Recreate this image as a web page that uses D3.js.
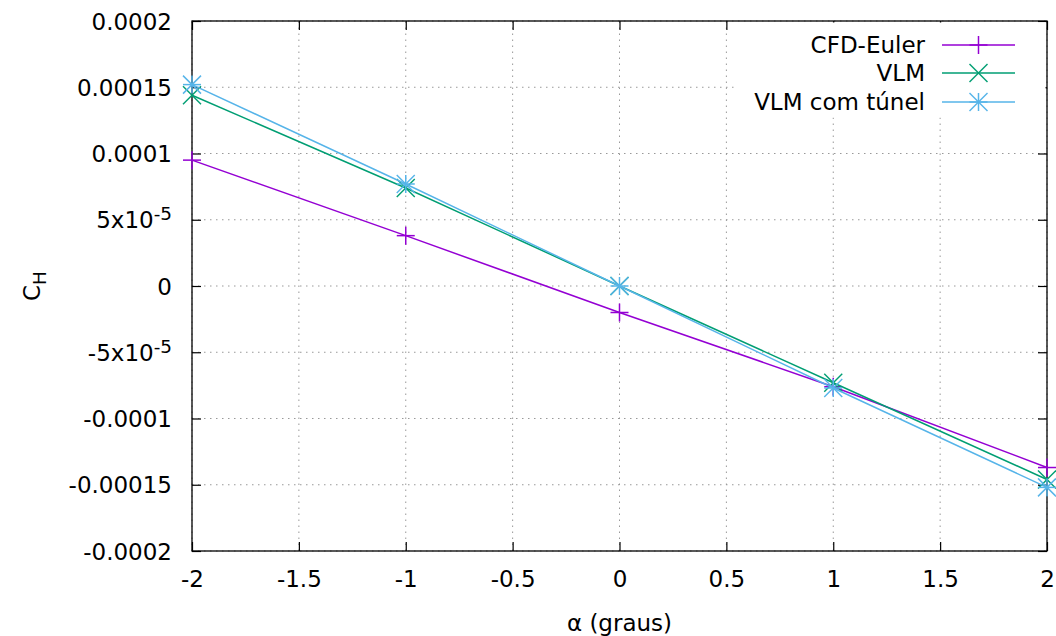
<!DOCTYPE html>
<html>
<head>
<meta charset="utf-8">
<script src="https://cdn.jsdelivr.net/npm/d3@7"></script>
<style>
  html, body { margin: 0; padding: 0; background: #fff; }
  text { font-family: "DejaVu Sans", sans-serif; }
</style>
</head>
<body>
<svg id="chart" width="1056" height="636"></svg>
<script>
// Angle of attack (degrees)
const alpha = [-2, -1, 0, 1, 2];
// Hinge moment coefficient C_H for each method
const cfdEuler = [9.5e-5, 3.8e-5, -2.0e-5, -7.6e-5, -1.37e-4];
const vlm = [1.44e-4, 7.4e-5, 0, -7.3e-5, -1.46e-4];
const vlmTunel = [1.52e-4, 7.7e-5, 0, -7.7e-5, -1.52e-4];

const seriesNames = ["CFD-Euler", "VLM", "VLM com túnel"];
const seriesColors = ["#9400d3", "#009e73", "#56b4e9"];
const seriesMarkers = ["plus", "cross", "star"];

const xTicks = [-2, -1.5, -1, -0.5, 0, 0.5, 1, 1.5, 2];
const xTickLabels = ["-2", "-1.5", "-1", "-0.5", "0", "0.5", "1", "1.5", "2"];
const yTicks = [2e-4, 1.5e-4, 1e-4, 5e-5, 0, -5e-5, -1e-4, -1.5e-4, -2e-4];
// [mantissa text, exponent or null]
const yTickLabels = [
  ["0.0002", null], ["0.00015", null], ["0.0001", null], ["5x10", "-5"], ["0", null],
  ["-5x10", "-5"], ["-0.0001", null], ["-0.00015", null], ["-0.0002", null]
];

const margin = { left: 192, right: 9, top: 21, bottom: 85 };
const W = 1056, H = 636;
const svg = d3.select("#chart");

const x = d3.scaleLinear().domain([-2, 2]).range([margin.left, W - margin.right]);
const y = d3.scaleLinear().domain([-2e-4, 2e-4]).range([H - margin.bottom, margin.top]);

const fontSize = 23;

// Dotted grid
const grid = svg.append("g").attr("stroke", "#999").attr("stroke-width", 1)
  .attr("stroke-dasharray", "1.5,4.5");
xTicks.forEach(t => grid.append("line")
  .attr("x1", x(t)).attr("x2", x(t)).attr("y1", y(-2e-4)).attr("y2", y(2e-4)));
yTicks.forEach(t => grid.append("line")
  .attr("x1", x(-2)).attr("x2", x(2)).attr("y1", y(t)).attr("y2", y(t)));

// Axes with inward ticks, mirrored on top and right
const tickLen = 9;
const axisBottom = d3.axisBottom(x).tickValues(xTicks).tickSize(-tickLen).tickFormat((d, i) => xTickLabels[i]).tickPadding(20);
const axisTop = d3.axisTop(x).tickValues(xTicks).tickSize(-tickLen).tickFormat("");
const axisLeft = d3.axisLeft(y).tickValues(yTicks).tickSize(-tickLen).tickFormat("");
const axisRight = d3.axisRight(y).tickValues(yTicks).tickSize(-tickLen).tickFormat("");

function styleAxis(g) {
  g.select(".domain").remove();
  g.selectAll(".tick line").attr("stroke", "#000").attr("stroke-width", 1.2);
  g.selectAll("text").attr("font-size", fontSize).attr("fill", "#000")
    .style("font-family", "'DejaVu Sans', sans-serif");
}

svg.append("g").attr("transform", `translate(0,${y(-2e-4)})`).call(axisBottom).call(styleAxis);
svg.append("g").attr("transform", `translate(0,${y(2e-4)})`).call(axisTop).call(styleAxis);
const gLeft = svg.append("g").attr("transform", `translate(${x(-2)},0)`).call(axisLeft).call(styleAxis);
svg.append("g").attr("transform", `translate(${x(2)},0)`).call(axisRight).call(styleAxis);

// Y tick labels with superscript exponents
gLeft.selectAll(".tick").each(function(d, i) {
  const lab = yTickLabels[i];
  const t = d3.select(this).append("text")
    .attr("x", -20).attr("dy", "0.35em").attr("text-anchor", "end")
    .attr("font-size", fontSize).attr("fill", "#000");
  t.append("tspan").text(lab[0]);
  if (lab[1]) {
    t.append("tspan").attr("dy", "-0.45em").attr("font-size", fontSize * 0.8).text(lab[1]);
  }
});

// Border
svg.append("rect")
  .attr("x", x(-2)).attr("y", y(2e-4))
  .attr("width", x(2) - x(-2)).attr("height", y(-2e-4) - y(2e-4))
  .attr("fill", "none").attr("stroke", "#000").attr("stroke-width", 1.3);

// Markers
function drawMarker(g, type, cx, cy, color) {
  const s = 9;
  const lines = [];
  if (type === "plus" || type === "star") {
    lines.push([cx - s, cy, cx + s, cy], [cx, cy - s, cx, cy + s]);
  }
  if (type === "cross" || type === "star") {
    lines.push([cx - s, cy - s, cx + s, cy + s], [cx - s, cy + s, cx + s, cy - s]);
  }
  lines.forEach(l => g.append("line")
    .attr("x1", l[0]).attr("y1", l[1]).attr("x2", l[2]).attr("y2", l[3])
    .attr("stroke", color).attr("stroke-width", 1.5));
}

// Series
const seriesData = [cfdEuler, vlm, vlmTunel];
const line = d3.line().x(d => x(d[0])).y(d => y(d[1]));
const plot = svg.append("g");
seriesData.forEach((vals, si) => {
  const pts = alpha.map((a, i) => [a, vals[i]]);
  plot.append("path").datum(pts).attr("d", line)
    .attr("fill", "none").attr("stroke", seriesColors[si]).attr("stroke-width", 1.5);
  pts.forEach(p => drawMarker(plot, seriesMarkers[si], x(p[0]), y(p[1]), seriesColors[si]));
});

// Legend (opaque box over the grid)
const legend = svg.append("g");
legend.append("rect").attr("x", 735).attr("y", y(2e-4) + 1.5).attr("width", x(2) - 735 - 1.5)
  .attr("height", 95).attr("fill", "#fff");
const rowY = [45, 73, 102];
seriesNames.forEach((name, i) => {
  legend.append("text").attr("x", 925).attr("y", rowY[i]).attr("dy", "0.35em")
    .attr("text-anchor", "end").attr("font-size", fontSize).text(name);
  legend.append("line").attr("x1", 942).attr("x2", 1015).attr("y1", rowY[i]).attr("y2", rowY[i])
    .attr("stroke", seriesColors[i]).attr("stroke-width", 1.5);
  drawMarker(legend, seriesMarkers[i], 978.5, rowY[i], seriesColors[i]);
});

// Axis titles
svg.append("text").attr("x", x(0)).attr("y", 623).attr("dy", "0.35em")
  .attr("text-anchor", "middle").attr("font-size", fontSize).text("α (graus)");
const yl = svg.append("text").attr("transform", `translate(40,${y(0)}) rotate(-90)`)
  .attr("text-anchor", "middle").attr("font-size", fontSize);
yl.append("tspan").text("C");
yl.append("tspan").attr("dy", "0.3em").attr("font-size", fontSize * 0.8).text("H");
</script>
</body>
</html>
